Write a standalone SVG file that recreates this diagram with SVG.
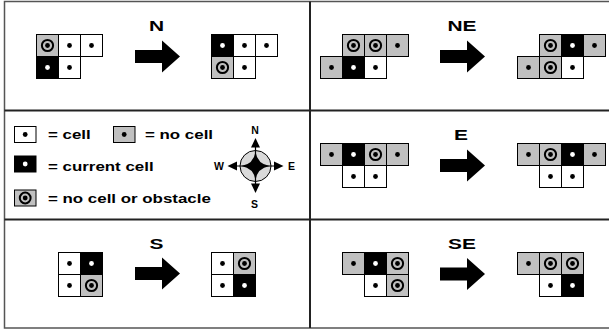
<svg xmlns="http://www.w3.org/2000/svg" width="609" height="329" viewBox="0 0 609 329">
<style>
.c{stroke:#000;stroke-width:1}
.w{fill:#fff}
.g{fill:#c0c0c0}
.b{fill:#000}
.dk{fill:#000}
.wd{fill:#fff}
.ring{fill:none;stroke:#000;stroke-width:2}
.frame{fill:none;stroke:#555;stroke-width:1.5}
.div{stroke:#222;stroke-width:2}
.lbl{font-family:"Liberation Sans",Arial,sans-serif;font-weight:bold;font-size:15.5px;text-anchor:middle;fill:#000}
.leg{font-family:"Liberation Sans",Arial,sans-serif;font-weight:bold;font-size:13px;fill:#000}
.cmp{font-family:"Liberation Sans",Arial,sans-serif;font-weight:bold;font-size:10.5px;text-anchor:middle;fill:#000}
.arrow{fill:#000}
</style>
<defs>
<g id="cw"><rect class="c w" width="22" height="22"/><circle class="dk" cx="11" cy="11" r="2.4"/></g>
<g id="cg"><rect class="c g" width="22" height="22"/><circle class="dk" cx="11" cy="11" r="2.4"/></g>
<g id="cb"><rect class="c b" width="22" height="22"/><circle class="wd" cx="11" cy="11" r="2.4"/></g>
<g id="ct"><rect class="c g" width="22" height="22"/><circle class="ring" cx="11" cy="11" r="5.6"/><circle class="dk" cx="11" cy="11" r="2.4"/></g>
<path id="bigarrow" d="M0,-6.5 H27 V-16 L45,0 L27,16 V6.5 H0 Z"/>
</defs>
<rect width="609" height="329" fill="#fff"/>
<g id="frame">
<rect class="frame" x="4.5" y="1.5" width="606" height="326.5"/>
<line class="div" x1="310" y1="1.5" x2="310" y2="328"/>
<line class="div" x1="4.5" y1="110.5" x2="609" y2="110.5"/>
<line class="div" x1="4.5" y1="219.5" x2="609" y2="219.5"/>
</g>
<g id="connectors">
<use href="#bigarrow" class="arrow" transform="translate(135,56.5)"/>
<use href="#bigarrow" class="arrow" transform="translate(440,56.5)"/>
<use href="#bigarrow" class="arrow" transform="translate(440,165.5)"/>
<use href="#bigarrow" class="arrow" transform="translate(135,273.5)"/>
<use href="#bigarrow" class="arrow" transform="translate(440,274)"/>
</g>
<g id="panel-N">
<text class="lbl" transform="translate(156.5,31) scale(1.35,1)">N</text>
<g id="N-before">
<use href="#ct" x="36.5" y="34.5"/><use href="#cw" x="58.5" y="34.5"/><use href="#cw" x="80.5" y="34.5"/>
<use href="#cb" x="36.5" y="56.5"/><use href="#cw" x="58.5" y="56.5"/>
</g>
<g id="N-after">
<use href="#cb" x="211.5" y="34.5"/><use href="#cw" x="233.5" y="34.5"/><use href="#cw" x="255.5" y="34.5"/>
<use href="#ct" x="211.5" y="56.5"/><use href="#cw" x="233.5" y="56.5"/>
</g>
</g>
<g id="panel-NE">
<text class="lbl" transform="translate(462,31) scale(1.35,1)">NE</text>
<g id="NE-before">
<use href="#ct" x="342.5" y="34.5"/><use href="#ct" x="364.5" y="34.5"/><use href="#cg" x="386.5" y="34.5"/>
<use href="#cg" x="320.5" y="56.5"/><use href="#cb" x="342.5" y="56.5"/><use href="#cw" x="364.5" y="56.5"/>
</g>
<g id="NE-after">
<use href="#ct" x="539.5" y="34.5"/><use href="#cb" x="561.5" y="34.5"/><use href="#cg" x="583.5" y="34.5"/>
<use href="#cg" x="517.5" y="56.5"/><use href="#ct" x="539.5" y="56.5"/><use href="#cw" x="561.5" y="56.5"/>
</g>
</g>
<g id="legend">
<rect class="c w" x="14.5" y="126.5" width="21.5" height="16"/><circle class="dk" cx="25.2" cy="134.5" r="2.4"/>
<text class="leg" transform="translate(48,138.5) scale(1.3,1)">= cell</text>
<rect class="c g" x="113.5" y="126.5" width="21.5" height="16"/><circle class="dk" cx="124.2" cy="134.5" r="2.4"/>
<text class="leg" transform="translate(145,138.5) scale(1.3,1)">= no cell</text>
<rect class="c b" x="14.5" y="156" width="21.5" height="16"/><circle class="wd" cx="25.2" cy="164" r="2.4"/>
<text class="leg" transform="translate(48,170.5) scale(1.3,1)">= current cell</text>
<rect class="c g" x="14.5" y="190" width="21.5" height="16"/><circle class="ring" cx="25.2" cy="198" r="5.4"/><circle class="dk" cx="25.2" cy="198" r="2.4"/>
<text class="leg" transform="translate(48,202.5) scale(1.3,1)">= no cell or obstacle</text>
</g>
<g id="compass">
<circle cx="255.5" cy="166" r="15.5" fill="#d9d9d9" stroke="#000" stroke-width="1"/>
<line x1="232" y1="166" x2="279" y2="166" stroke="#000" stroke-width="1.2"/>
<line x1="255.5" y1="142" x2="255.5" y2="190" stroke="#000" stroke-width="1.2"/>
<path d="M255.5,152 Q257.5,164 269.5,166 Q257.5,168 255.5,180 Q253.5,168 241.5,166 Q253.5,164 255.5,152 Z" fill="#000"/>
<path d="M255.5,138 L260,147.5 L251,147.5 Z" fill="#000"/>
<path d="M255.5,193 L260,183.5 L251,183.5 Z" fill="#000"/>
<path d="M283.5,166 L274,161.5 L274,170.5 Z" fill="#000"/>
<path d="M227.5,166 L237,161.5 L237,170.5 Z" fill="#000"/>
<text class="cmp" x="255" y="133.5">N</text>
<text class="cmp" x="219" y="169.5">W</text>
<text class="cmp" x="291.5" y="169.5">E</text>
<text class="cmp" x="254.5" y="207.5">S</text>
</g>
<g id="panel-E">
<text class="lbl" transform="translate(461,140) scale(1.35,1)">E</text>
<g id="E-before">
<use href="#cg" x="320.5" y="143.5"/><use href="#cb" x="342.5" y="143.5"/><use href="#ct" x="364.5" y="143.5"/><use href="#cg" x="386.5" y="143.5"/>
<use href="#cw" x="342.5" y="165.5"/><use href="#cw" x="364.5" y="165.5"/>
</g>
<g id="E-after">
<use href="#cg" x="517.5" y="143.5"/><use href="#ct" x="539.5" y="143.5"/><use href="#cb" x="561.5" y="143.5"/><use href="#cg" x="583.5" y="143.5"/>
<use href="#cw" x="539.5" y="165.5"/><use href="#cw" x="561.5" y="165.5"/>
</g>
</g>
<g id="panel-S">
<text class="lbl" transform="translate(156.5,248.5) scale(1.35,1)">S</text>
<g id="S-before">
<use href="#cw" x="58.5" y="252.5"/><use href="#cb" x="80.5" y="252.5"/>
<use href="#cw" x="58.5" y="274.5"/><use href="#ct" x="80.5" y="274.5"/>
</g>
<g id="S-after">
<use href="#cw" x="211.5" y="252.5"/><use href="#ct" x="233.5" y="252.5"/>
<use href="#cw" x="211.5" y="274.5"/><use href="#cb" x="233.5" y="274.5"/>
</g>
</g>
<g id="panel-SE">
<text class="lbl" transform="translate(462,248.5) scale(1.35,1)">SE</text>
<g id="SE-before">
<use href="#cg" x="342.5" y="252.5"/><use href="#cb" x="364.5" y="252.5"/><use href="#ct" x="386.5" y="252.5"/>
<use href="#cw" x="364.5" y="274.5"/><use href="#ct" x="386.5" y="274.5"/>
</g>
<g id="SE-after">
<use href="#cg" x="517.5" y="252.5"/><use href="#ct" x="539.5" y="252.5"/><use href="#ct" x="561.5" y="252.5"/>
<use href="#cw" x="539.5" y="274.5"/><use href="#cb" x="561.5" y="274.5"/>
</g>
</g>
</svg>
